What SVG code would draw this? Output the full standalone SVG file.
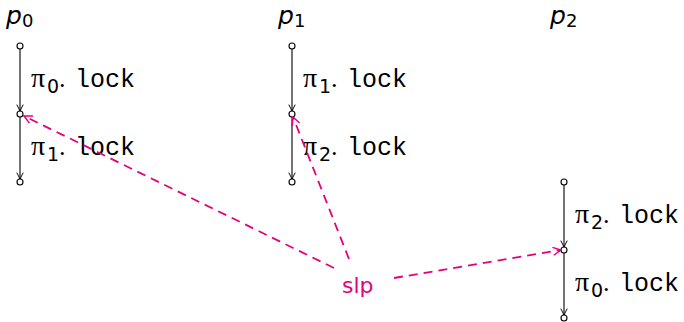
<svg xmlns="http://www.w3.org/2000/svg" width="684" height="322" viewBox="0 0 684 322">
<defs>
<marker id="ah" viewBox="0 0 10 10" refX="9" refY="5" markerWidth="8" markerHeight="8" markerUnits="userSpaceOnUse" orient="auto"><path d="M1,1 L9,5 L1,9" fill="none" stroke="#000" stroke-width="1.2"/></marker>
<marker id="ahp" viewBox="0 0 10 10" refX="9" refY="5" markerWidth="10" markerHeight="10" markerUnits="userSpaceOnUse" orient="auto"><path d="M1,1 L9,5 L1,9" fill="none" stroke="#e5007d" stroke-width="1.5"/></marker>
</defs>
<style>
.ev{fill:#fff;stroke:#000;stroke-width:1.1}
.ed{stroke:#000;stroke-width:1.1;fill:none;marker-end:url(#ah)}
.dash{stroke:#e5007d;stroke-width:1.8;fill:none;stroke-dasharray:9,6;marker-end:url(#ahp)}
.pl{font-family:"DejaVu Sans","Liberation Sans",sans-serif;font-style:italic;font-size:25px;fill:#000}
.ps{font-family:"DejaVu Sans","Liberation Sans",sans-serif;font-style:normal;font-size:18px}
.lb{font-family:"Liberation Serif",serif;font-size:28px;fill:#000}
.sub{font-family:"DejaVu Sans","Liberation Sans",sans-serif;font-size:19px}
.dot{font-family:"Liberation Serif",serif;font-size:26px}
.mono{font-family:"Liberation Mono","Courier New",monospace;font-size:25px}
.slp{font-family:"DejaVu Sans","Open Sans",sans-serif;font-size:22px;fill:#e5007d}
</style>
<g id="p0">
<text class="pl" x="6" y="24">p<tspan class="ps" dy="3">0</tspan></text>
<line class="ed" x1="20" y1="49" x2="20" y2="111"/>
<line class="ed" x1="20" y1="117" x2="20" y2="179"/>
<circle class="ev" cx="20" cy="46" r="3"/>
<circle class="ev" cx="20" cy="114" r="3"/>
<circle class="ev" cx="20" cy="182" r="3"/>
<text class="lb" x="31" y="87">π<tspan class="sub" x="47" dy="6">0</tspan><tspan class="dot" x="59" dy="-6">.</tspan><tspan class="mono" x="75">lock</tspan></text>
<text class="lb" x="31" y="155">π<tspan class="sub" x="47" dy="6">1</tspan><tspan class="dot" x="59" dy="-6">.</tspan><tspan class="mono" x="75">lock</tspan></text>
</g>
<g id="p1">
<text class="pl" x="278" y="24">p<tspan class="ps" dy="3">1</tspan></text>
<line class="ed" x1="292" y1="49" x2="292" y2="111"/>
<line class="ed" x1="292" y1="117" x2="292" y2="179"/>
<circle class="ev" cx="292" cy="46" r="3"/>
<circle class="ev" cx="292" cy="114" r="3"/>
<circle class="ev" cx="292" cy="182" r="3"/>
<text class="lb" x="303" y="87">π<tspan class="sub" x="319" dy="6">1</tspan><tspan class="dot" x="331" dy="-6">.</tspan><tspan class="mono" x="347">lock</tspan></text>
<text class="lb" x="303" y="155">π<tspan class="sub" x="319" dy="6">2</tspan><tspan class="dot" x="331" dy="-6">.</tspan><tspan class="mono" x="347">lock</tspan></text>
</g>
<g id="p2">
<text class="pl" x="550" y="24">p<tspan class="ps" dy="3">2</tspan></text>
<line class="ed" x1="564" y1="185" x2="564" y2="247"/>
<line class="ed" x1="564" y1="253" x2="564" y2="315"/>
<circle class="ev" cx="564" cy="182" r="3"/>
<circle class="ev" cx="564" cy="250" r="3"/>
<circle class="ev" cx="564" cy="318" r="3"/>
<text class="lb" x="575" y="223">π<tspan class="sub" x="591" dy="6">2</tspan><tspan class="dot" x="603" dy="-6">.</tspan><tspan class="mono" x="619">lock</tspan></text>
<text class="lb" x="575" y="291">π<tspan class="sub" x="591" dy="6">0</tspan><tspan class="dot" x="603" dy="-6">.</tspan><tspan class="mono" x="619">lock</tspan></text>
</g>
<g id="slp">
<text class="slp" x="342" y="293">slp</text>
</g>
<g id="connectors">
<line class="dash" x1="334" y1="268" x2="24" y2="116"/>
<line class="dash" x1="349" y1="259" x2="293" y2="117"/>
<line class="dash" x1="394" y1="278" x2="561" y2="250"/>
</g>
</svg>
